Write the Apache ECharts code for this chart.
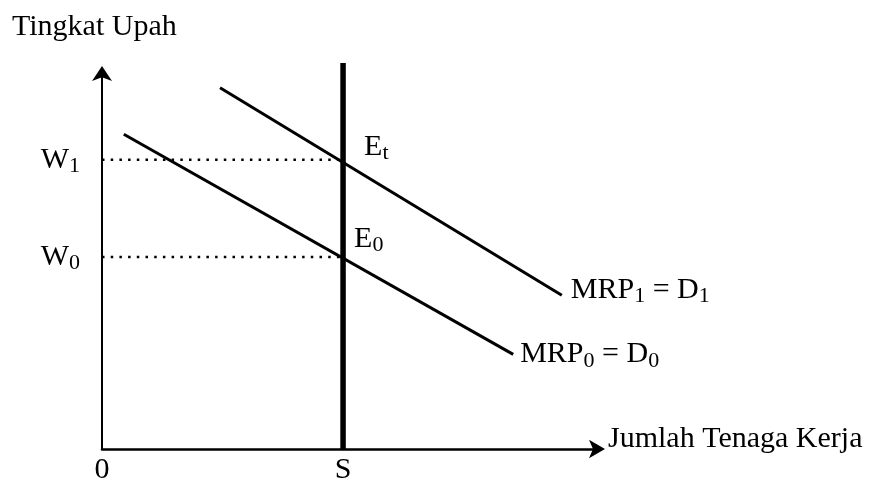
<!DOCTYPE html>
<html>
<head>
<meta charset="utf-8">
<script src="https://cdn.jsdelivr.net/npm/echarts@6/dist/echarts.min.js"></script>
<style>
  html, body { margin: 0; padding: 0; background: #fff; }
  #chart-box { width: 885px; height: 481px; }
</style>
</head>
<body>
<div id="chart-box"></div>
<script>
// diagram units: both axes run 0..100
const supplyX = 48.6;          // S
const wageLevels = [50.9, 76.7]; // W0, W1
const wageNames = ['W0', 'W1'];
const demand1 = [[23.8, 95.8], [92.7, 40.8]];  // MRP1 = D1
const demand0 = [[4.4, 83.5], [82.9, 25.1]];   // MRP0 = D0
const supplyTop = 102.4;

const FONT = '"Liberation Serif", "Times New Roman", serif';
const black = '#000';
const SIZE = 30;

const richText = {
  b: { fontSize: SIZE, fontFamily: FONT, color: black },
  s: { fontSize: 22, fontFamily: FONT, color: black, padding: [13, 0, 0, 0] }
};

function plainLine(name, data, width) {
  return {
    name: name,
    type: 'line',
    data: data,
    symbol: 'none',
    clip: false,
    silent: true,
    lineStyle: { color: black, width: width }
  };
}

function dotted(y) {
  return {
    type: 'line',
    data: [[0, y], [supplyX, y]],
    symbol: 'none',
    silent: true,
    lineStyle: { color: black, width: 2.5, type: [2.5, 6.2] }
  };
}

function endLabel(point, text, dist, dy) {
  return {
    value: point,
    symbolSize: 0,
    label: {
      show: true,
      position: 'right',
      distance: dist,
      offset: [0, dy],
      formatter: text,
      rich: richText
    }
  };
}

let options = {
  animation: false,
  title: {
    text: 'Tingkat Upah',
    left: 7,
    top: 7,
    textStyle: { fontFamily: FONT, fontSize: SIZE, fontWeight: 'normal', color: black }
  },
  grid: { left: 102, right: 287, top: 72, bottom: 32, outerBoundsMode: 'none' },
  xAxis: {
    type: 'value',
    min: 0,
    max: 100,
    name: 'Jumlah Tenaga Kerja',
    nameLocation: 'end',
    nameGap: 10,
    nameTextStyle: {
      fontFamily: FONT, fontSize: SIZE, color: black,
      align: 'left', verticalAlign: 'bottom', lineHeight: 20
    },
    axisLine: {
      show: true,
      symbol: ['none', 'arrow'],
      symbolSize: [14, 16],
      symbolOffset: [0, 7],
      lineStyle: { color: black, width: 2.5 }
    },
    axisTick: { show: false },
    splitLine: { show: false },
    axisLabel: {
      customValues: [0, supplyX],
      formatter: (v) => (v === 0 ? '0' : 'S'),
      margin: 6,
      fontFamily: FONT,
      fontSize: SIZE,
      color: black
    }
  },
  yAxis: {
    type: 'value',
    min: 0,
    max: 100,
    axisLine: {
      show: true,
      symbol: ['none', 'arrow'],
      symbolSize: [15, 15],
      symbolOffset: [0, 6],
      lineStyle: { color: black, width: 2 }
    },
    axisTick: { show: false },
    splitLine: { show: false },
    axisLabel: {
      customValues: wageLevels,
      formatter: (v) => {
        const i = wageLevels.indexOf(v);
        return '{b|W}{s|' + wageNames[i].slice(1) + '}';
      },
      margin: 22,
      rich: richText
    }
  },
  series: [
    dotted(wageLevels[0]),
    dotted(wageLevels[1]),
    plainLine('D0', demand0, 3),
    plainLine('D1', demand1, 3),
    plainLine('S', [[supplyX, 0], [supplyX, supplyTop]], 5.5),
    {
      type: 'scatter',
      silent: true,
      itemStyle: { opacity: 1 },
      data: [
        endLabel([supplyX, wageLevels[1]], '{b|E}{s|t}', 21, -13),
        endLabel([supplyX, wageLevels[0]], '{b|E}{s|0}', 11, -18),
        endLabel(demand1[1], '{b|MRP}{s|1}{b| = D}{s|1}', 9, -5),
        endLabel(demand0[1], '{b|MRP}{s|0}{b| = D}{s|0}', 7, 0)
      ]
    }
  ]
};

let chart = echarts.init(document.getElementById('chart-box'));
chart.setOption(options);
</script>
</body>
</html>
